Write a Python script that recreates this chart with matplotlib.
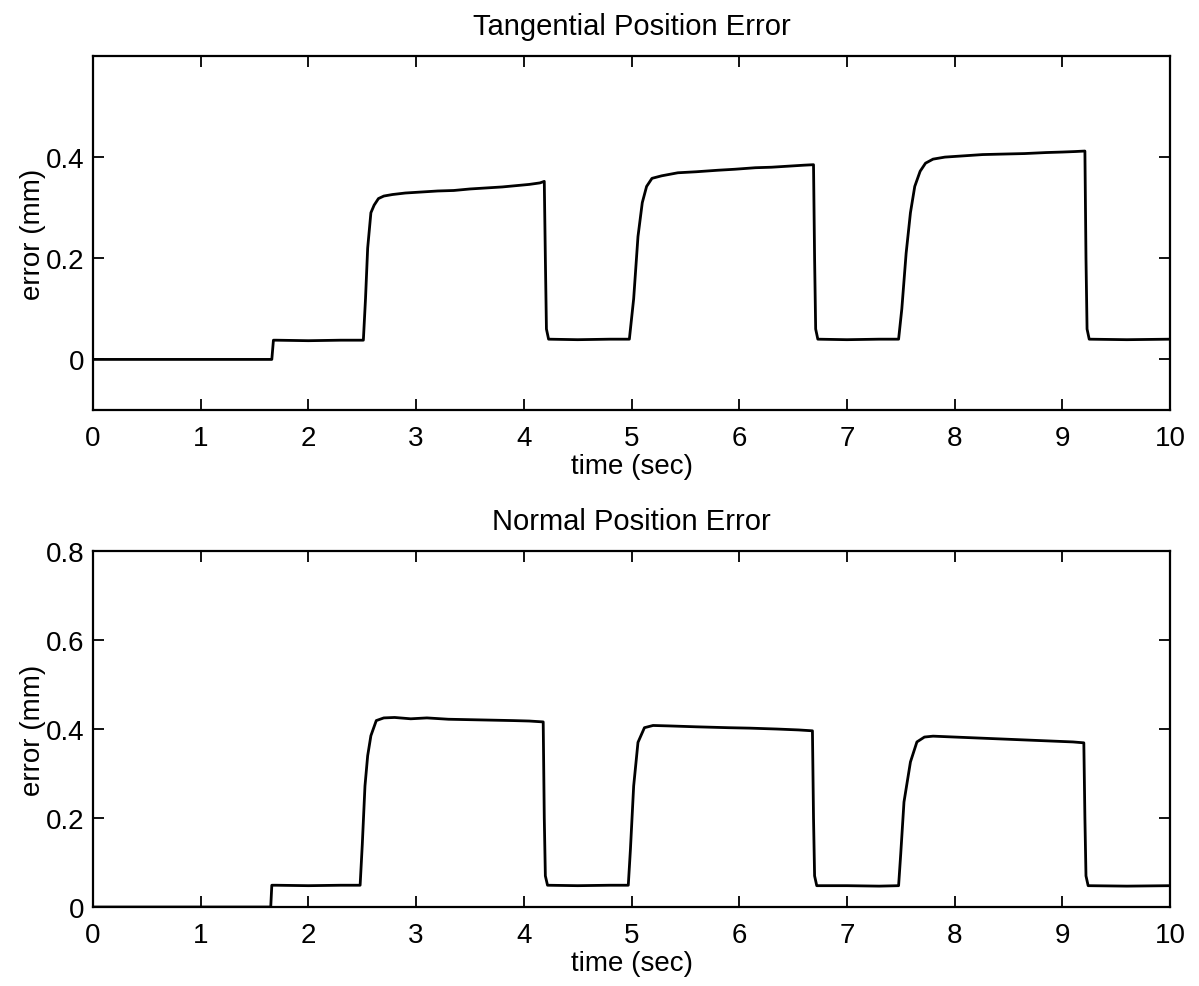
import matplotlib.pyplot as plt

plt.rcParams['font.family'] = ['Liberation Sans', 'DejaVu Sans']

# Tangential position error (mm)
tan_time = [0, 1.66, 1.675, 1.70, 2.0, 2.3, 2.51,
            2.53, 2.55, 2.58, 2.61, 2.65, 2.70, 2.78, 2.90, 3.05, 3.2, 3.35, 3.5,
            3.65, 3.8, 3.95, 4.05, 4.15, 4.19,
            4.20, 4.21, 4.23, 4.5, 4.8, 4.98,
            5.02, 5.06, 5.10, 5.14, 5.19, 5.28, 5.43, 5.6, 5.8, 5.96, 6.15, 6.3,
            6.45, 6.6, 6.69,
            6.70, 6.71, 6.73, 7.0, 7.3, 7.48,
            7.51, 7.55, 7.59, 7.63, 7.68, 7.73, 7.80, 7.91, 8.05, 8.26, 8.45,
            8.65, 8.85, 9.0, 9.12, 9.21,
            9.22, 9.23, 9.25, 9.6, 10]
tan_err = [0, 0, 0.038, 0.038, 0.037, 0.038, 0.038,
           0.12, 0.22, 0.29, 0.305, 0.318, 0.323, 0.326, 0.329, 0.331, 0.333, 0.334, 0.337,
           0.339, 0.341, 0.344, 0.346, 0.349, 0.352,
           0.20, 0.06, 0.040, 0.039, 0.040, 0.040,
           0.12, 0.243, 0.31, 0.342, 0.358, 0.363, 0.369, 0.371, 0.374, 0.376, 0.379, 0.380,
           0.382, 0.384, 0.385,
           0.20, 0.06, 0.040, 0.039, 0.040, 0.040,
           0.10, 0.21, 0.29, 0.342, 0.372, 0.388, 0.396, 0.400, 0.402, 0.405, 0.406,
           0.407, 0.409, 0.410, 0.411, 0.412,
           0.20, 0.06, 0.040, 0.039, 0.040]

# Normal position error (mm)
norm_time = [0, 1.65, 1.66, 1.70, 2.0, 2.3, 2.48,
             2.50, 2.525, 2.55, 2.58, 2.63, 2.70, 2.80, 2.95, 3.1, 3.3, 3.5, 3.7,
             3.9, 4.05, 4.18,
             4.19, 4.20, 4.22, 4.5, 4.8, 4.97,
             4.99, 5.02, 5.06, 5.12, 5.2, 5.35, 5.6, 5.9, 6.1, 6.35, 6.55, 6.68,
             6.69, 6.70, 6.72, 7.0, 7.3, 7.48,
             7.50, 7.53, 7.59, 7.65, 7.72, 7.8, 8.0, 8.3, 8.6, 8.9, 9.1, 9.20,
             9.21, 9.22, 9.24, 9.6, 10]
norm_err = [0, 0, 0.049, 0.049, 0.048, 0.049, 0.049,
            0.14, 0.272, 0.34, 0.385, 0.419, 0.425, 0.426, 0.423, 0.425, 0.422, 0.421, 0.420,
            0.419, 0.418, 0.416,
            0.20, 0.07, 0.049, 0.048, 0.049, 0.049,
            0.13, 0.272, 0.37, 0.403, 0.408, 0.407, 0.405, 0.403, 0.402, 0.400, 0.398, 0.396,
            0.20, 0.07, 0.048, 0.048, 0.047, 0.048,
            0.12, 0.236, 0.326, 0.371, 0.382, 0.384, 0.382, 0.379, 0.376, 0.373, 0.371, 0.369,
            0.20, 0.07, 0.048, 0.047, 0.048]

x_ticks = list(range(0, 11))

fig = plt.figure(figsize=(11.99, 9.87), dpi=100)
ax1 = fig.add_axes([0.0776, 0.5836, 0.8982, 0.3587])
ax2 = fig.add_axes([0.0776, 0.0800, 0.8982, 0.3607])


def style_axes(ax, title, yticks, ylabels, ylim):
    ax.set_xlim(0, 10)
    ax.set_ylim(*ylim)
    ax.set_xticks(x_ticks)
    ax.set_xticklabels([str(t) for t in x_ticks])
    ax.set_yticks(yticks)
    ax.set_yticklabels(ylabels)
    ax.tick_params(direction='in', top=True, right=True, length=8, width=1.3,
                   labelsize=20)
    ax.tick_params(axis='x', pad=11)
    ax.tick_params(axis='y', pad=6)
    for sp in ax.spines.values():
        sp.set_linewidth(1.6)
    ax.set_title(title, fontsize=21, pad=16)
    ax.set_xlabel('time (sec)', fontsize=20, labelpad=1)
    ax.set_ylabel('error (mm)', fontsize=20, labelpad=0)


ax1.plot(tan_time, tan_err, color='black', linewidth=2)
style_axes(ax1, 'Tangential Position Error', [0, 0.2, 0.4], ['0', '0.2', '0.4'], (-0.1, 0.6))

ax2.plot(norm_time, norm_err, color='black', linewidth=2)
style_axes(ax2, 'Normal Position Error', [0, 0.2, 0.4, 0.6, 0.8],
           ['0', '0.2', '0.4', '0.6', '0.8'], (0, 0.8))

fig.savefig('out.png', dpi=100)
